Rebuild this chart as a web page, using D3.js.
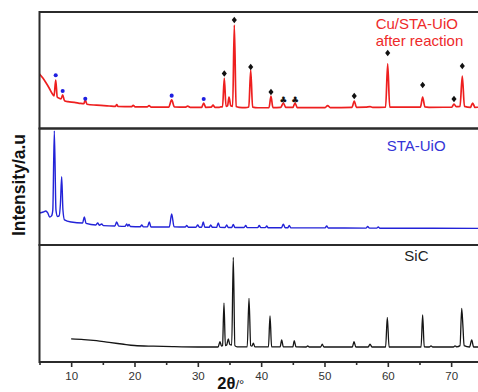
<!DOCTYPE html>
<html>
<head>
<meta charset="utf-8">
<script src="https://cdn.jsdelivr.net/npm/d3@7/dist/d3.min.js"></script>
<style>
  html, body { margin: 0; padding: 0; background: #fff; }
  svg { display: block; }
</style>
</head>
<body>
<div id="chart"></div>
<script>
// ---- XRD patterns: [2θ (°), intensity (% of panel height)] ----
const cuStaUioAfter = [
  [5.0, 46.8], [5.5, 43.5], [6.0, 39.5], [6.5, 35], [7.0, 30], [7.3, 28],
  [7.56, 41.6], [7.8, 27], [8.1, 26], [8.4, 25.5], [8.66, 28.8], [8.95, 23.8],
  [9.5, 23], [10.5, 22.5], [11.5, 21.5], [12.0, 21.3], [12.23, 24.5], [12.5, 20.8],
  [14, 20], [16, 19.3], [17.0, 19], [17.2, 20.5], [17.4, 18.9], [19.5, 18.7],
  [19.8, 19.8], [20.1, 18.6], [22.0, 18.5], [22.3, 19.7], [22.6, 18.4], [25.4, 18.4],
  [25.87, 24.5], [26.3, 18.5], [28, 18.3], [28.4, 19.2], [28.8, 18.2], [30.6, 18.2],
  [30.93, 21.9], [31.25, 18.2], [32.1, 18.3], [32.4, 20], [32.7, 18.2], [33.3, 18.1],
  [33.6, 18.5], [33.9, 18.5], [34.18, 43.3], [34.45, 19], [34.7, 19.5], [34.92, 27],
  [35.2, 19.5], [35.5, 19], [35.76, 88.8], [36.05, 18.8], [36.5, 18.2], [37.5, 18],
  [38.05, 18.5], [38.35, 50.2], [38.65, 18.4], [39.5, 17.8], [41.25, 18], [41.55, 27.9],
  [41.85, 18], [43.1, 18.2], [43.5, 21.9], [43.9, 18.1], [45.0, 18.1], [45.35, 21.9],
  [45.7, 18], [50.1, 18], [50.5, 19.7], [50.9, 18], [54.35, 18.2], [54.7, 23.6],
  [55.05, 18.2], [56.5, 18.3], [57.2, 18.8], [57.6, 18.2], [59.65, 18.4], [59.98, 55.4],
  [60.3, 18.4], [65.15, 18.4], [65.5, 27], [65.85, 18.6], [66.5, 18.2], [70.1, 18.3],
  [70.45, 21], [70.8, 18.8], [71.4, 19], [71.76, 45], [72.1, 19], [73.05, 18.2],
  [73.4, 21.9], [73.75, 18.2], [75, 18.3]
];

const staUio = [
  [5.0, 27.5], [5.6, 28.3], [6.0, 29.2], [6.3, 27.5], [6.6, 24], [6.9, 25],
  [7.1, 30], [7.34, 98], [7.6, 30], [7.85, 24.5], [8.1, 25], [8.3, 35],
  [8.5, 58.6], [8.7, 30], [8.95, 21.5], [10, 19.7], [11.8, 18.9], [12.07, 24],
  [12.35, 18.5], [13.9, 17.2], [14.19, 18.9], [14.45, 17.0], [14.82, 18], [15.1, 16.6],
  [16.9, 16.3], [17.19, 19.7], [17.5, 16.2], [18.5, 16], [18.77, 18], [18.95, 16.2],
  [19.13, 17.6], [19.35, 15.9], [20.9, 15.7], [21.14, 17.2], [21.4, 15.6], [22.05, 15.6],
  [22.34, 19.7], [22.6, 15.5], [25.5, 15.5], [25.87, 26.6], [26.25, 15.6], [28.0, 15.4],
  [28.24, 16.7], [28.5, 15.3], [29.7, 15.3], [29.98, 17.2], [30.25, 15.3], [30.6, 15.3],
  [30.86, 19.7], [31.1, 15.3], [31.8, 15.2], [32.03, 17.2], [32.3, 15.2], [32.95, 15.1],
  [33.23, 18.9], [33.5, 15.1], [34.3, 15], [34.56, 17.2], [34.8, 15], [35.35, 15],
  [35.6, 17.6], [35.85, 15], [37.3, 15], [37.56, 16.7], [37.8, 14.9], [39.45, 14.9],
  [39.7, 16.7], [39.95, 14.9], [40.65, 14.9], [40.88, 16.3], [41.1, 14.8], [43.2, 14.8],
  [43.5, 17.8], [43.8, 14.8], [44.2, 14.8], [44.44, 16.7], [44.7, 14.7], [50.1, 14.7],
  [50.35, 16.3], [50.6, 14.6], [56.55, 14.5], [56.82, 15.9], [57.1, 14.5], [58.25, 14.5],
  [58.5, 15.5], [58.75, 14.4], [75, 14.3]
];

const sic = [
  [10, 19.7], [12, 19.2], [14, 18.2], [16, 16.7], [18, 15.4], [20, 14.1],
  [23, 13.5], [26, 13.1], [30, 12.8], [33.2, 12.8], [33.5, 17.3], [33.75, 13.5],
  [33.9, 14], [34.13, 50.2], [34.35, 14], [34.55, 14.5], [34.81, 19.7], [35.05, 15],
  [35.35, 14.5], [35.6, 89.5], [35.85, 14], [36.2, 13], [37.8, 13], [38.08, 54.4],
  [38.35, 14], [38.55, 13.5], [38.76, 16.2], [39.0, 13], [41.15, 13], [41.4, 39.3],
  [41.65, 13], [43.0, 13], [43.24, 18.8], [43.5, 12.9], [45.0, 12.9], [45.23, 18.2],
  [45.5, 12.9], [47.1, 12.8], [47.35, 13.7], [47.6, 12.8], [49.4, 12.8], [49.65, 15.2],
  [49.9, 12.8], [54.4, 12.8], [54.66, 17.3], [54.95, 12.8], [56.9, 12.8], [57.19, 15.2],
  [57.5, 12.8], [59.65, 12.8], [59.92, 38.2], [60.2, 12.8], [65.25, 12.8], [65.5, 40.2],
  [65.75, 13], [66.55, 12.8], [66.82, 13.7], [67.1, 12.8], [70.35, 12.8], [70.61, 13.7],
  [70.9, 13], [71.4, 14], [71.67, 45.9], [71.85, 31.6], [72.05, 14], [72.9, 12.8],
  [73.25, 18.8], [73.55, 12.8], [75, 12.8]
];

// ---- reflection markers on the Cu/STA-UiO pattern: [2θ, intensity] ----
const uioReflections = [[7.56, 45.7], [8.66, 32.2], [12.23, 25.6], [25.87, 28.2], [30.93, 25.3]];
const sicReflections = [[34.18, 47.2], [35.76, 93.1], [38.35, 52.8], [41.55, 31.3], [54.7, 27.9],
                        [59.98, 64.8], [65.5, 37.3], [70.45, 25.3], [71.76, 53.7]];
const cuReflections = [[43.5, 24.5], [45.35, 24.5]];

// ---- axis ticks ----
const xTicks = d3.range(5, 80, 5);
const xTickLabels = [10, 20, 30, 40, 50, 60, 70];

const patternNames = ["Cu/STA-UiO after reaction", "STA-UiO", "SiC"];

// ---- layout ----
const W = 478, H = 392;
const svg = d3.select("#chart").append("svg").attr("width", W).attr("height", H);

const x = d3.scaleLinear().domain([5, 80]).range([39.5, 39.5 + 75 * 6.333]);

const panels = [
  { top: 12,    bottom: 128.5, data: cuStaUioAfter, color: "#ee1f1f", width: 1.7 },
  { top: 128.5, bottom: 245,   data: staUio,        color: "#2323d8", width: 1.4 },
  { top: 245,   bottom: 362,   data: sic,           color: "#151515", width: 1.3 }
];

const FONT = "'Liberation Sans', Arial, Helvetica, sans-serif";

panels.forEach((p, i) => {
  p.y = d3.scaleLinear().domain([0, 100]).range([p.bottom, p.top]);
  svg.append("clipPath").attr("id", "clip" + i)
    .append("rect")
    .attr("x", x(5)).attr("y", p.top)
    .attr("width", x(80) - x(5)).attr("height", p.bottom - p.top);

  const line = d3.line()
    .x(d => x(d[0]))
    .y(d => p.y(d[1]))
    .curve(d3.curveMonotoneX);

  svg.append("path")
    .datum(p.data)
    .attr("clip-path", `url(#clip${i})`)
    .attr("fill", "none")
    .attr("stroke", p.color)
    .attr("stroke-width", p.width)
    .attr("stroke-linejoin", "round")
    .attr("d", line);
});

// panel frames
panels.forEach(p => {
  svg.append("rect")
    .attr("x", x(5)).attr("y", p.top)
    .attr("width", x(80) - x(5)).attr("height", p.bottom - p.top)
    .attr("fill", "none")
    .attr("stroke", "#2b2b2b")
    .attr("stroke-width", 2);
});

// reflection markers (top panel)
const firstPanel = panels[0];
const diamond = {
  draw(ctx, size) {
    const r = Math.sqrt(size) / 2;
    ctx.moveTo(0, -1.25 * r);
    ctx.lineTo(r, 0);
    ctx.lineTo(0, 1.25 * r);
    ctx.lineTo(-r, 0);
    ctx.closePath();
  }
};
svg.append("g").selectAll("path")
  .data(sicReflections).join("path")
  .attr("transform", d => `translate(${x(d[0])},${firstPanel.y(d[1])})`)
  .attr("d", d3.symbol(diamond, 26))
  .attr("fill", "#111");

svg.append("g").selectAll("path")
  .data(uioReflections).join("path")
  .attr("transform", d => `translate(${x(d[0])},${firstPanel.y(d[1])})`)
  .attr("d", d3.symbol(d3.symbolCircle, 13))
  .attr("fill", "#1f1fe0");

svg.append("g").selectAll("text")
  .data(cuReflections).join("text")
  .attr("x", d => x(d[0]))
  .attr("y", d => firstPanel.y(d[1]))
  .attr("text-anchor", "middle")
  .attr("dominant-baseline", "central")
  .style("font-family", "'DejaVu Sans', sans-serif")
  .style("font-size", "9px")
  .attr("fill", "#111")
  .text("\u2663");

// pattern labels
const labelFont = "15px";
svg.append("text")
  .attr("x", 375.7).attr("y", 29.3)
  .style("font-family", FONT).style("font-size", labelFont)
  .attr("fill", "#ee2a2a")
  .text("Cu/STA-UiO");
svg.append("text")
  .attr("x", 375.7).attr("y", 46.3)
  .style("font-family", FONT).style("font-size", labelFont)
  .attr("fill", "#ee2a2a")
  .text("after reaction");
svg.append("text")
  .attr("x", 386.7).attr("y", 150.5)
  .style("font-family", FONT).style("font-size", labelFont)
  .attr("fill", "#3434d6")
  .text(patternNames[1]);
svg.append("text")
  .attr("x", 404.3).attr("y", 261)
  .style("font-family", FONT).style("font-size", labelFont)
  .attr("fill", "#222")
  .text(patternNames[2]);

// bottom axis
const axis = d3.axisBottom(x)
  .tickValues(xTicks)
  .tickSizeOuter(0)
  .tickSize(5)
  .tickPadding(5)
  .tickFormat(d => xTickLabels.includes(d) ? d : "");
const gAxis = svg.append("g")
  .attr("transform", `translate(0,${panels[2].bottom})`)
  .call(axis);
gAxis.select(".domain").remove();
gAxis.selectAll(".tick line")
  .attr("stroke", "#2b2b2b")
  .attr("stroke-width", 1.6)
  .attr("y2", d => xTickLabels.includes(d) ? 5 : 3);
gAxis.selectAll(".tick text")
  .style("font-family", FONT)
  .style("font-size", "11.5px")
  .attr("fill", "#333");

// axis titles
const xt = svg.append("text")
  .attr("x", 217.3).attr("y", 389)
  .style("font-family", FONT)
  .attr("fill", "#111");
xt.append("tspan").style("font-size", "16.5px").style("font-weight", "bold").text("2\u03b8");
xt.append("tspan").style("font-size", "13px").text("/\u00b0");

svg.append("text")
  .attr("transform", "translate(25,185) rotate(-90)")
  .attr("text-anchor", "middle")
  .style("font-family", FONT)
  .style("font-size", "17.5px")
  .style("font-weight", "bold")
  .attr("fill", "#111")
  .text("Intensity/a.u");
</script>
</body>
</html>
